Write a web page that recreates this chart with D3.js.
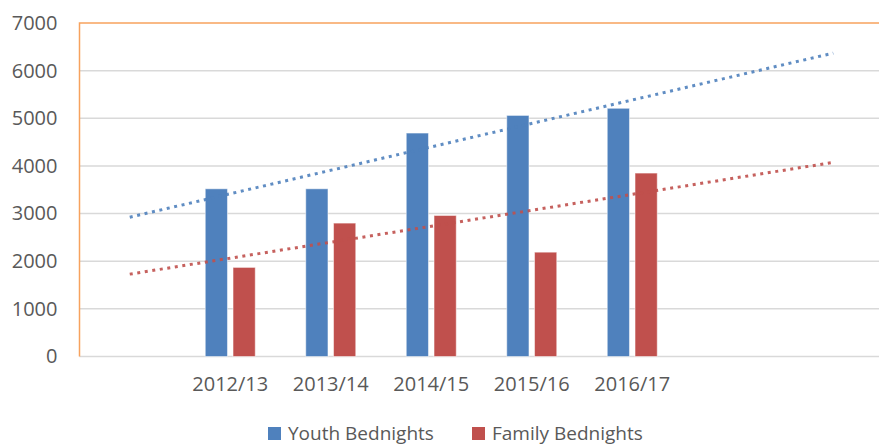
<!DOCTYPE html>
<html>
<head>
    <meta charset="utf-8">
    <title></title>
    <script src="https://d3js.org/d3.v7.min.js"></script>
    <style>
        html, body { margin: 0; padding: 0; background: white; }
        text { font-family: "Open Sans", "Noto Sans", sans-serif; fill: #595959; }
    </style>
</head>
<body>
    <div id="chart"></div>
    <script>
        // Data
        const categories = ["2012/13", "2013/14", "2014/15", "2015/16", "2016/17"];
        const seriesNames = ["Youth Bednights", "Family Bednights"];
        const youth = [3520, 3520, 4690, 5060, 5210];
        const family = [1870, 2800, 2960, 2190, 3850];
        const yTicks = [0, 1000, 2000, 3000, 4000, 5000, 6000, 7000];
        const colors = ["#4f81bd", "#c0504d"];

        // category axis has 8 slots, data sit in slots 1..5
        const slotCount = 8;
        const firstSlot = 1;

        const W = 879, H = 447;
        const plot = { left: 79.5, top: 23, right: 883.5, bottom: 356.5 };

        const svg = d3.select("#chart").append("svg")
            .attr("width", W)
            .attr("height", H);

        const x = d3.scaleBand()
            .domain(d3.range(slotCount))
            .range([plot.left, plot.right])
            .padding(0);

        const x1 = d3.scaleBand()
            .domain(seriesNames)
            .range([-25, 25])
            .paddingInner(0.2);

        const y = d3.scaleLinear()
            .domain([0, 7000])
            .range([plot.bottom, plot.top]);

        const center = i => x(i) + x.bandwidth() / 2;

        // gridlines
        svg.append("g")
            .selectAll("line")
            .data(yTicks.slice(0, -1))
            .enter()
            .append("line")
            .attr("x1", plot.left)
            .attr("x2", W)
            .attr("y1", d => y(d))
            .attr("y2", d => y(d))
            .attr("stroke", "#d9d9d9")
            .attr("stroke-width", 1.5);

        // orange plot border (top + left)
        svg.append("path")
            .attr("d", `M${plot.left},${y(0)}V${y(7000)}H${W}`)
            .attr("fill", "none")
            .attr("stroke", "#f7a25e")
            .attr("stroke-width", 1.5);

        // y axis
        svg.append("g")
            .attr("transform", `translate(${plot.left},0)`)
            .call(d3.axisLeft(y).tickValues(yTicks).tickFormat(d3.format("d")).tickSize(0).tickPadding(22))
            .call(g => g.select(".domain").remove())
            .selectAll("text")
            .style("font-size", "20px")
            .style("font-family", "'Open Sans', sans-serif")
            .attr("fill", "#595959");

        // x axis
        svg.append("g")
            .attr("transform", `translate(0,${plot.bottom})`)
            .call(d3.axisBottom(x)
                .tickSize(0)
                .tickPadding(20)
                .tickFormat(i => categories[i - firstSlot] || ""))
            .call(g => g.select(".domain").remove())
            .selectAll("text")
            .style("font-size", "20px")
            .style("font-family", "'Open Sans', sans-serif")
            .attr("fill", "#595959");

        // bars
        const rows = categories.map((c, i) => ({ slot: i + firstSlot, values: [youth[i], family[i]] }));

        const groups = svg.append("g")
            .selectAll("g")
            .data(rows)
            .enter()
            .append("g")
            .attr("transform", d => `translate(${center(d.slot)},0)`);

        groups.selectAll("rect")
            .data(d => d.values.map((v, k) => ({ name: seriesNames[k], v, k })))
            .enter()
            .append("rect")
            .attr("x", d => x1(d.name))
            .attr("y", d => y(d.v))
            .attr("width", x1.bandwidth())
            .attr("height", d => y(0) - y(d.v))
            .attr("fill", d => colors[d.k])
            .attr("stroke", "rgba(255,255,255,0.5)")
            .attr("stroke-width", 1);

        // linear trendlines, drawn from slot 0 to slot 7
        [youth, family].forEach((vals, k) => {
            const xs = vals.map((v, i) => i + firstSlot);
            const mx = d3.mean(xs), my = d3.mean(vals);
            const slope = d3.sum(xs, (xi, i) => (xi - mx) * (vals[i] - my)) / d3.sum(xs, xi => (xi - mx) ** 2);
            const fit = s => my + slope * (s - mx);
            const pts = [0, slotCount - 1];
            svg.append("path")
                .attr("d", d3.line().x(s => center(s)).y(s => y(fit(s)))(pts))
                .attr("fill", "none")
                .attr("stroke", colors[k])
                .attr("stroke-width", 3)
                .attr("stroke-dasharray", "3,4.6")
                .attr("opacity", 0.9);
        });

        // legend
        const legendX = [268, 472];
        const legend = svg.append("g")
            .selectAll("g")
            .data(seriesNames)
            .enter()
            .append("g")
            .attr("transform", (d, i) => `translate(${legendX[i]},427)`);

        legend.append("rect")
            .attr("width", 13)
            .attr("height", 13)
            .attr("fill", (d, i) => colors[i]);

        legend.append("text")
            .attr("x", 20)
            .attr("y", 13)
            .style("font-size", "19px")
            .text(d => d);
    </script>
</body>
</html>
